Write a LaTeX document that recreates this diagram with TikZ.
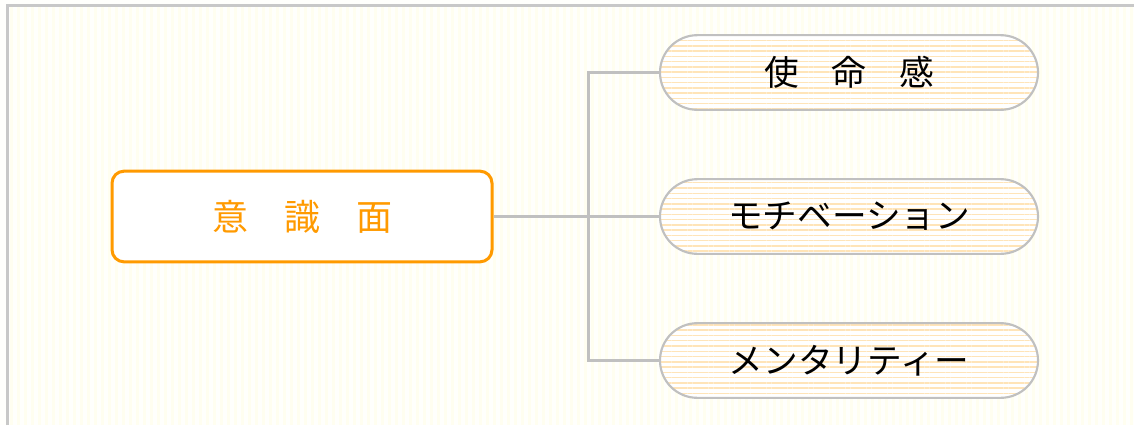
\documentclass[tikz,border=0pt]{standalone}
\usepackage{fontspec}
\setmainfont{Noto Sans CJK JP}
\usetikzlibrary{patterns.meta}
\definecolor{bgbase}{HTML}{FFFFFC}
\definecolor{bgline}{HTML}{FFFEF0}
\definecolor{framegray}{HTML}{C8C8C8}
\definecolor{linkgray}{HTML}{C0C0C0}
\definecolor{mainorange}{HTML}{FF9A00}
\definecolor{stripeorange}{HTML}{FFE4B8}
\tikzset{
  mainbox/.style={draw=mainorange, line width=2.25pt, fill=white, rounded corners=9pt,
    minimum width=285pt, minimum height=68pt, text=mainorange,
    font=\fontsize{27pt}{32pt}\selectfont},
  pillbox/.style={draw=linkgray, line width=1.6pt, rounded corners=28pt,
    minimum width=283.5pt, minimum height=56pt, text=black,
    font=\fontsize{26pt}{31pt}\selectfont,
    preaction={fill=white},
    pattern={Lines[angle=0, distance=3.95pt, line width=1.1pt]},
    pattern color=stripeorange},
  link/.style={draw=linkgray, line width=2.25pt},
}
\begin{document}
\begin{tikzpicture}[x=0.75pt,y=-0.75pt]
\useasboundingbox (0,0) rectangle (1134,425);
\fill[bgbase] (0,0) rectangle (1134,425);
\foreach \i in {0,...,162}
  \fill[bgline] (10+\i*7,7) rectangle ++(3,418);
\draw[framegray, line width=2.25pt] (7,425) -- (7,5) -- (1134,5);
\node[mainbox] (ishiki) at (302,216.5) {意\hspace{1em}識\hspace{1em}面};
\node[pillbox] (shimei) at (849,72.5) {使\hspace{0.95em}命\hspace{0.95em}感};
\node[pillbox] (motiv) at (849,216.5) {モチベーション};
\node[pillbox] (mental) at (849,360.5) {メンタリティー};
\coordinate (fork) at (588,216.5);
\draw[link] (ishiki) -- (motiv);
\draw[link] (shimei.west) -| (fork) |- (mental.west);
\end{tikzpicture}
\end{document}
